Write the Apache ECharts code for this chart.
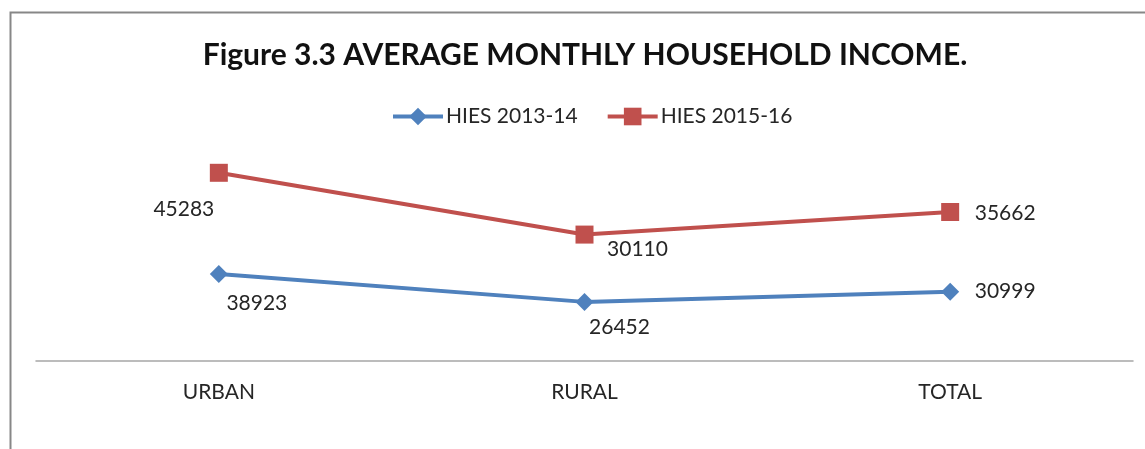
<!DOCTYPE html>
<html>
<head>
<meta charset="utf-8">
<script src="https://cdn.jsdelivr.net/npm/echarts@6/dist/echarts.min.js"></script>
<style>
html,body{margin:0;padding:0;background:#fff;}
#chart{width:1145px;height:449px;}
</style>
</head>
<body>
<div id="chart"></div>
<script>
const categories = ['URBAN', 'RURAL', 'TOTAL'];
const hies201314 = [38923, 26452, 30999];
const hies201516 = [45283, 30110, 35662];
const seriesNames = ['HIES 2013-14', 'HIES 2015-16'];
const titleText = 'Figure 3.3 AVERAGE MONTHLY HOUSEHOLD INCOME.';

const blueOffsets = [[38, 29], [35, 25], [55, 0]];
const redOffsets = [[-35, 36], [53, 15], [55, 1]];

function withLabels(values, offsets) {
  return values.map((v, i) => ({
    value: v,
    label: { offset: offsets[i] }
  }));
}

const labelStyle = {
  show: true,
  position: 'inside',
  fontFamily: 'Lato',
  fontSize: 21,
  color: '#262626'
};

const chart = echarts.init(document.getElementById('chart'), null, { renderer: 'canvas' });
chart.setOption({
  animation: false,
  backgroundColor: '#ffffff',
  graphic: [{
    type: 'rect',
    shape: { x: 10.5, y: 12.5, width: 1200, height: 500 },
    style: { fill: 'none', stroke: '#878787', lineWidth: 2 },
    silent: true
  }],
  title: {
    text: titleText,
    left: 580,
    textAlign: 'center',
    top: 35,
    textStyle: { fontFamily: 'Lato', fontWeight: 'bold', fontSize: 30, color: '#111111' }
  },
  legend: {
    top: 101,
    left: 386,
    itemWidth: 50,
    itemHeight: 22,
    itemGap: 28,
    lineStyle: { width: 4 },
    textStyle: { fontFamily: 'Lato', fontSize: 21, color: '#262626', padding: [0, 0, 0, -2] },
    data: seriesNames
  },
  grid: { left: 36, right: 12, top: 137.5, bottom: 88, containLabel: false },
  xAxis: {
    type: 'category',
    data: categories,
    boundaryGap: true,
    axisLine: { lineStyle: { color: '#a6a6a6', width: 1.5 } },
    axisTick: { show: false },
    axisLabel: { fontFamily: 'Lato', fontSize: 21, color: '#262626', margin: 21 }
  },
  yAxis: {
    type: 'value',
    min: 0,
    max: 100000,
    show: false,
    splitLine: { show: false }
  },
  series: [
    {
      name: seriesNames[0],
      type: 'line',
      stack: 'total',
      data: withLabels(hies201314, blueOffsets),
      symbol: 'diamond',
      symbolSize: 18,
      lineStyle: { color: '#4F81BD', width: 4 },
      itemStyle: { color: '#4F81BD' },
      label: labelStyle
    },
    {
      name: seriesNames[1],
      type: 'line',
      stack: 'total',
      data: withLabels(hies201516, redOffsets),
      symbol: 'rect',
      symbolSize: 18,
      lineStyle: { color: '#C0504D', width: 4 },
      itemStyle: { color: '#C0504D' },
      label: labelStyle
    }
  ]
});
</script>
</body>
</html>
